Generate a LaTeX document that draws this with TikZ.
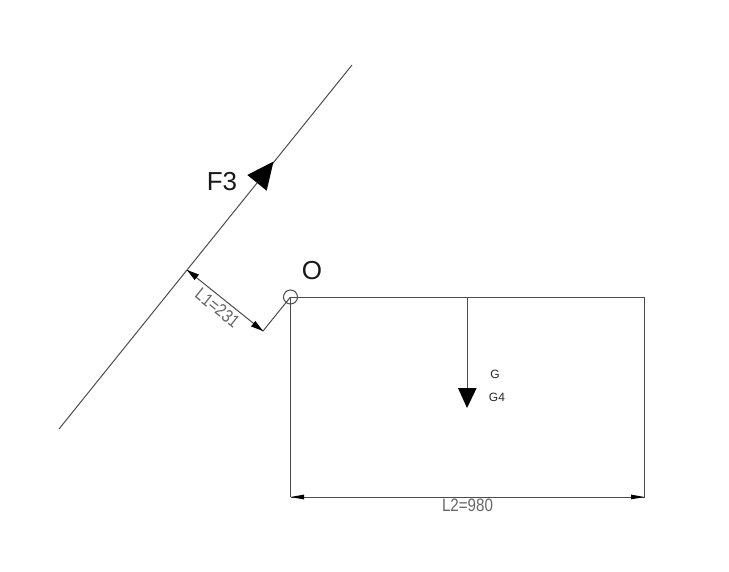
\documentclass[tikz,border=0pt]{standalone}
\usepackage{fontspec}
\setmainfont{Liberation Sans}
\newcommand{\cadtext}[1]{\scalebox{0.84}[1]{#1}}
\tikzset{
  ln/.style={draw=black!70,line width=1pt},
  tip/.style={fill=black,draw=none},
  big/.style={font=\fontsize{26}{26}\selectfont,text=black!90,inner sep=0pt},
  small/.style={font=\fontsize{12}{12}\selectfont,text=black!85,inner sep=0pt},
  dim/.style={font=\fontsize{18}{18}\selectfont,text=black!60,inner sep=0pt},
}
\begin{document}
\begin{tikzpicture}[x=1pt,y=-1pt]
\useasboundingbox (0,0) rectangle (729,571);
\coordinate (a) at (59,429);
\coordinate (b) at (352,65);
\coordinate (f) at (187,270);
\coordinate (k) at (263,331);
\coordinate (O) at (290.5,297);
\coordinate (tr) at (644.5,297);
\coordinate (bl) at (290.5,497);
\coordinate (br) at (644.5,497);
\coordinate (gt) at (467,297);
\coordinate (gb) at (467,392);
\draw[ln] (a) -- (b);
\draw[ln] (f) -- (k) -- (O);
\draw[ln] (O) circle (7);
\draw[ln] (bl) -- (O) -- (tr) -- (br);
\draw[ln] (bl) -- (br);
\draw[ln] (gt) -- (gb);
\fill[tip] (273.5,161.5) -- (247.3,175) -- (266.7,190.7) -- cycle;
\fill[tip] (458,388) -- (476.7,388) -- (467,408) -- cycle;
\fill[tip] (187,270) -- (199,274.6) -- (194.6,280) -- cycle;
\fill[tip] (263,331) -- (251,326.4) -- (255.4,321) -- cycle;
\fill[tip] (290.5,497) -- (304,494.6) -- (304,499.4) -- cycle;
\fill[tip] (644.5,497) -- (631,494.6) -- (631,499.4) -- cycle;
\node[big] (nf) at (222,181.5) {F3};
\node[big] (no) at (312,271) {O};
\node[small] (ng) at (495,374.5) {G};
\node[small] (ng4) at (497,397.5) {G4};
\node[dim,rotate=-38.8] (nl1) at (217.5,308) {\cadtext{L1=231}};
\node[dim] (nl2) at (467.5,505.5) {\cadtext{L2=980}};
\end{tikzpicture}
\end{document}
